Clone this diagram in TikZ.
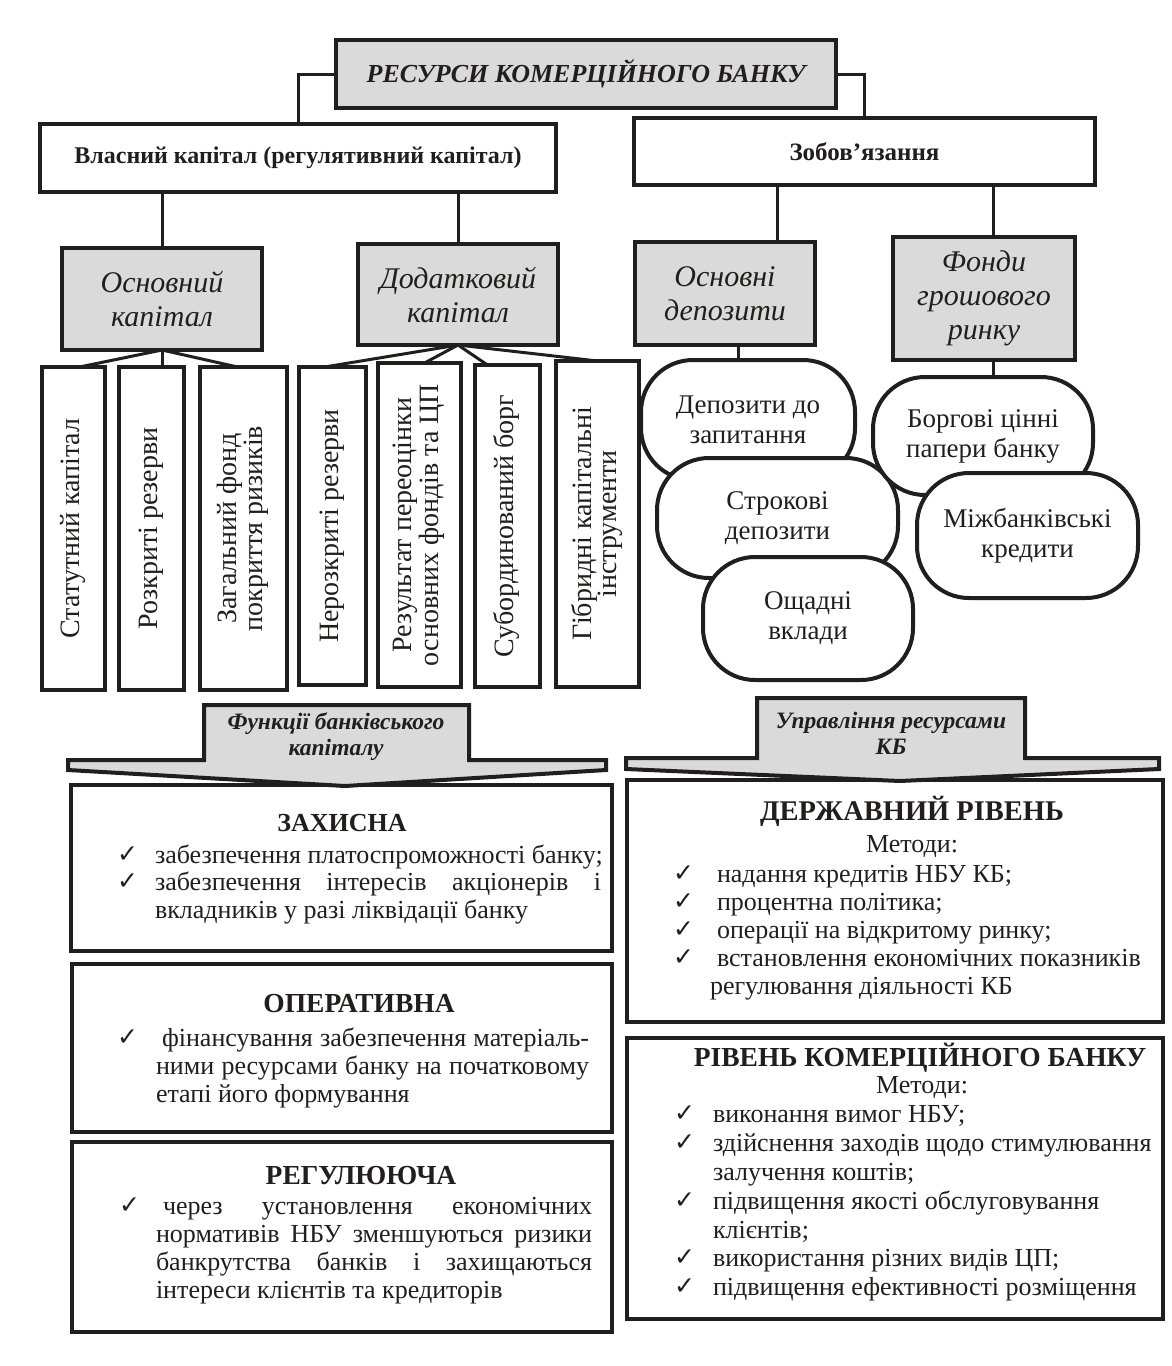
\documentclass[tikz,border=0pt]{standalone}
\usepackage{fontspec}
\setmainfont{Liberation Serif}
\newfontfamily\ckfont{DejaVu Sans}
\usepackage{graphicx}
\newcommand\ck{\raisebox{1pt}{\ckfont\fontsize{25}{20}\selectfont ✓}}
\newcommand\fs[2]{\fontsize{#1}{#2}\selectfont}
\newcommand\vt[1]{\rotatebox{90}{\begin{tabular}{@{}c@{}}#1\end{tabular}}}
\newcommand\jl[2]{\makebox[#1][s]{\spaceskip=0pt\xspaceskip=0pt\relax #2}}
\newcommand\nsp{\spaceskip=0pt\xspaceskip=0pt\relax}
\definecolor{ink}{RGB}{35,30,30}
\definecolor{shade}{RGB}{218,218,218}
\begin{document}
\begin{tikzpicture}[x=1pt,y=-1pt,
  every node/.style={inner sep=0pt, outer sep=0pt, text=ink},
  box/.style={draw=ink, line width=4.5pt, fill=white, rectangle},
  gbox/.style={box, fill=shade},
  vbox/.style={box, line width=4pt, font=\fs{28}{24}},
  round/.style={draw=ink, line width=4pt, fill=white, rounded corners=52pt, align=center, font=\fs{27}{30}},
  conn/.style={draw=ink, line width=3pt},
  glabel/.style={align=center, font=\fs{30}{34}\itshape},
  arrowshape/.style={draw=ink, fill=shade, line width=4pt, line join=miter},
  alabel/.style={align=center, font=\fs{23.5}{26}\bfseries\itshape},
  ttl/.style={anchor=base, font=\fs{27.5}{28}\bfseries},
  met/.style={anchor=base, font=\fs{26}{28}},
  lst/.style={anchor=north west, align=left, text width=520pt},
]
\useasboundingbox (0,0) rectangle (1171,1366);
\fill[white] (0,0) rectangle (1171,1366);

% --- top level
\node[gbox, minimum width=500pt, minimum height=68pt] (top) at (586,74) {\fs{26}{30}\bfseries\itshape РЕСУРСИ КОМЕРЦІЙНОГО БАНКУ};
\node[box, minimum width=516pt, minimum height=68pt] (vlas) at (298,158) {\fs{24}{28}\bfseries Власний капітал (регулятивний капітал)};
\node[box, minimum width=461pt, minimum height=67pt] (zob) at (864.5,151.5) {\fs{25}{28}\bfseries Зобов’язання};
\draw[conn] (top.west) -| (vlas.north);
\draw[conn] (top.east) -| (zob.north);

% --- second level
\node[gbox, minimum width=200pt, minimum height=102pt, glabel] (osn) at (162,299) {Основний\\капітал};
\node[gbox, minimum width=200pt, minimum height=101pt, glabel] (dod) at (458,294.5) {Додатковий\\капітал};
\node[gbox, minimum width=180pt, minimum height=103pt, glabel] (osd) at (725,293.5) {Основні\\депозити};
\node[gbox, minimum width=182pt, minimum height=123pt, glabel] (fon) at (984,298.5) {Фонди\\грошового\\ринку};
\coordinate (cx1) at (777,0);
\coordinate (cx2) at (993,0);
\coordinate (cx3) at (738,0);
\draw[conn] (osn.north) -- (osn.north |- vlas.south);
\draw[conn] (dod.north) -- (dod.north |- vlas.south);
\draw[conn] (zob.south -| cx1) -- (osd.north -| cx1);
\draw[conn] (zob.south -| cx2) -- (fon.north -| cx2);

% --- vertical boxes
\node[vbox, minimum width=63pt, minimum height=323pt] (v1) at (73.5,528.5) {\vt{Статутний капітал}};
\node[vbox, minimum width=65pt, minimum height=323pt] (v2) at (151.5,528.5) {\vt{Розкриті резерви}};
\node[vbox, minimum width=87pt, minimum height=323pt] (v3) at (243.5,528.5) {\vt{Загальний фонд\\покриття ризиків}};
\node[vbox, minimum width=67pt, minimum height=318pt] (v4) at (332.5,526) {\vt{Нерозкриті резерви}};
\node[vbox, minimum width=83pt, minimum height=324pt] (v5) at (419.5,525) {\vt{Результат переоцінки\\основних фондів та ЦП}};
\node[vbox, minimum width=65pt, minimum height=322pt] (v6) at (507.5,526) {\vt{Субординований борг}};
\node[vbox, minimum width=83pt, minimum height=326pt] (v7) at (597.5,524) {\vt{Гібридні капітальні\\інструменти}};
\draw[conn] (osn.south) -- ([xshift=6pt]v1.north);
\draw[conn] (osn.south) -- (osn.south |- v2.north);
\draw[conn] (osn.south) -- ([xshift=-6pt]v3.north);
\draw[conn] (dod.south) -- ([xshift=-8pt]v4.north);
\draw[conn] (dod.south) -- ([xshift=5pt]v5.north);
\draw[conn] (dod.south) -- ([xshift=-20pt]v6.north);
\draw[conn] (dod.south) -- (v7.north);

% --- rounded shapes
\node[round, minimum width=214pt, minimum height=120pt] (dep1) at (748,420) {Депозити до\\запитання};
\node[round, minimum width=241pt, minimum height=120pt] (dep2) at (777.5,518) {Строкові\\депозити};
\node[round, minimum width=210pt, minimum height=123pt] (dep3) at (808,618.5) {Ощадні\\вклади};
\node[round, minimum width=220pt, minimum height=118pt] (bor) at (983,436) {Боргові цінні\\папери банку};
\node[round, minimum width=221pt, minimum height=125pt] (mzb) at (1027.5,535.5) {Міжбанківські\\кредити};
\draw[conn] (osd.south -| cx3) -- (dep1.north -| cx3);
\draw[conn] (fon.south -| cx2) -- (bor.north -| cx2);

% --- bottom left boxes
\node[box, line width=4pt, minimum width=541pt, minimum height=166pt] (zah) at (341.5,868) {};
\node[box, line width=4pt, minimum width=540pt, minimum height=168pt] (ope) at (342,1048) {};
\node[box, line width=4pt, minimum width=540pt, minimum height=190pt] (reg) at (342,1237) {};
\node[ttl, font=\fs{26}{28}\bfseries] (zaht) at (342,831) {ЗАХИСНА};
\node[ttl] (opet) at (359,1012) {ОПЕРАТИВНА};
\node[ttl] (regt) at (361,1184) {РЕГУЛЮЮЧА};
\node[lst, font=\fs{26}{26.5}] (zahl) at (117,844.45) {\nsp
\strut\makebox[38pt][l]{\ck}забезпечення платоспроможності банку;\\
\strut\makebox[38pt][l]{\ck}\jl{446pt}{забезпечення інтересів акціонерів і}\\
\strut\hspace*{38pt}вкладників у разі ліквідації банку};
\node[lst, font=\fs{26}{28}] (opel) at (117,1026.4) {\nsp
\strut\makebox[45pt][l]{\ck}\jl{427pt}{фінансування забезпечення матеріаль-}\\
\strut\hspace*{39pt}\jl{433pt}{ними ресурсами банку на початковому}\\
\strut\hspace*{39pt}етапі його формування};
\node[lst, font=\fs{26}{28}] (regl) at (119,1194.4) {\nsp
\strut\makebox[44pt][l]{\ck}\jl{429pt}{через установлення економічних}\\
\strut\hspace*{37pt}\jl{436pt}{нормативів НБУ зменшуються ризики}\\
\strut\hspace*{37pt}\jl{436pt}{банкрутства банків і захищаються}\\
\strut\hspace*{37pt}інтереси клієнтів та кредиторів};

% --- bottom right boxes
\node[box, line width=4pt, minimum width=536pt, minimum height=242pt] (der) at (895,901) {};
\node[box, line width=4pt, minimum width=536pt, minimum height=281pt] (riv) at (895,1178.5) {};
\node[ttl, font=\fs{28.5}{28}\bfseries] (dert) at (912,820) {ДЕРЖАВНИЙ РІВЕНЬ};
\node[met] (derm) at (912,852) {Методи:};
\node[lst, font=\fs{26}{28}] (derl) at (673,862.4) {\nsp
\strut\makebox[44pt][l]{\ck}надання кредитів НБУ КБ;\\
\strut\makebox[44pt][l]{\ck}процентна політика;\\
\strut\makebox[44pt][l]{\ck}операції на відкритому ринку;\\
\strut\makebox[44pt][l]{\ck}встановлення економічних показників\\
\strut\hspace*{37pt}регулювання діяльності КБ};
\node[ttl] (rivt) at (920,1066) {РІВЕНЬ КОМЕРЦІЙНОГО БАНКУ};
\node[met] (rivm) at (922,1093) {Методи:};
\node[lst, font=\fs{26}{28.8}] (rivl) at (674,1102.8) {\nsp
\strut\makebox[39pt][l]{\ck}виконання вимог НБУ;\\
\strut\makebox[39pt][l]{\ck}здійснення заходів щодо стимулювання\\
\strut\hspace*{39pt}залучення коштів;\\
\strut\makebox[39pt][l]{\ck}підвищення якості обслуговування\\
\strut\hspace*{39pt}клієнтів;\\
\strut\makebox[39pt][l]{\ck}використання різних видів ЦП;\\
\strut\makebox[39pt][l]{\ck}підвищення ефективності розміщення};

% --- block arrows
\draw[arrowshape] (204,705) -- (469,705) -- (469,760) -- (606,760) -- (606,770) -- (345,786) -- (68,770) -- (68,760) -- (204,760) -- cycle;
\draw[arrowshape] (757,698) -- (1025,698) -- (1025,758) -- (1159,758) -- (1159,769) -- (900,781) -- (626,769) -- (626,758) -- (757,758) -- cycle;
\node[alabel] (arl) at (336,737) {Функції банківського\\капіталу};
\node[alabel] (arr) at (891,733) {Управління ресурсами\\КБ};
\end{tikzpicture}
\end{document}
